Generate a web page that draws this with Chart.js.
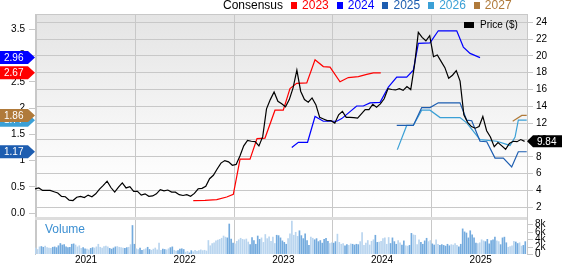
<!DOCTYPE html>
<html lang="en">
<head>
<meta charset="UTF-8">
<title>Consensus EPS and price</title>
<style>
    body {
        margin: 0;
        background: #fff;
        font-family: "Liberation Sans", Arial, sans-serif;
    }
    .wrap {
        position: relative;
        width: 562px;
        height: 264px;
        overflow: hidden;
    }
    canvas {
        position: absolute;
        left: 0;
        top: 0;
    }
    .legend {
        position: absolute;
        top: -2px;
        left: 223px;
        display: flex;
        align-items: center;
        font-size: 12px;
        line-height: 14px;
        white-space: nowrap;
    }
    .legend .item {
        display: flex;
        align-items: center;
        margin-left: 8px;
    }
    .legend .item:first-of-type {
        margin-left: 14px;
    }
    .sq {
        display: inline-block;
        width: 6px;
        height: 7px;
        margin-right: 5px;
    }
    .price-key {
        position: absolute;
        left: 464px;
        top: 19px;
        display: flex;
        align-items: center;
        font-size: 10px;
        line-height: 12px;
    }
    .price-key .sq {
        width: 10px;
        height: 6px;
        background: #000;
        margin-right: 6px;
    }
    .vol-label {
        position: absolute;
        left: 45px;
        top: 222px;
        font-size: 12px;
        line-height: 14px;
        color: #3b8fd2;
    }
</style>
</head>
<body>
<div class="wrap">
    <canvas id="chart" width="562" height="264"></canvas>
    <div class="legend">
        <span>Consensus</span>
        <span class="item" style="color:#ff0000"><i class="sq" style="background:#ff0000"></i>2023</span>
        <span class="item" style="color:#0000ff"><i class="sq" style="background:#0000ff"></i>2024</span>
        <span class="item" style="color:#1d5db0"><i class="sq" style="background:#1d5db0"></i>2025</span>
        <span class="item" style="color:#3ba0d6"><i class="sq" style="background:#3ba0d6"></i>2026</span>
        <span class="item" style="color:#b07a3a"><i class="sq" style="background:#b07a3a"></i>2027</span>
    </div>
    <div class="price-key"><i class="sq"></i>Price ($)</div>
    <div class="vol-label">Volume</div>
</div>

<script src="https://cdn.jsdelivr.net/npm/chart.js"></script>
<script>
    const FONT = '"Liberation Sans", Arial, sans-serif';

    // x axis in decimal years
    const years = [2021, 2022, 2023, 2024, 2025];
    const epsTicks = [0, 0.5, 1, 1.5, 2, 2.5, 3, 3.5];
    const priceTicks = [2, 4, 6, 8, 10, 12, 14, 16, 18, 20, 22, 24];
    const volTicks = [0, 2, 4, 6, 8];

    // closing price, one value every two weeks
    const priceStart = 2020.483;
    const priceStep = 1 / 26;
    const price = [
        4.19, 4.3, 4.0, 4.0, 4.0, 3.85, 3.7, 3.3, 3.25, 2.85,
        2.8, 3.2, 3.3, 3.15, 3.45, 3.25, 3.6, 4.15, 4.6, 5.1,
        4.35, 3.8, 4.4, 4.9, 4.3, 4.45, 3.9, 3.9, 3.45, 3.6,
        3.3, 3.35, 3.6, 4.1, 3.95, 4.05, 3.8, 3.8, 3.5, 3.4,
        3.5, 3.3, 3.65, 4.2, 4.25, 4.5, 5.4, 5.8, 6.55, 7.25,
        7.55, 7.4, 7.0, 7.1, 8.1, 9.3, 9.94, 9.85, 9.8, 9.3,
        10.4, 13.7, 14.8, 15.7, 14.6, 14.3, 13.95, 14.8, 16.2, 18.3,
        15.8, 14.8, 14.5, 15.0, 14.2, 12.7, 12.5, 12.3, 12.3, 12.0,
        13.0, 13.4, 12.7, 12.7, 12.65, 12.6, 13.1, 13.6, 13.6, 14.25,
        13.9, 14.3, 14.9, 16.1, 16.0, 15.95, 16.1, 15.9, 16.35, 16.0,
        18.9, 22.8, 22.2, 21.8, 22.4, 19.9, 20.1, 19.35, 18.6, 17.35,
        17.7, 18.25, 17.0, 13.0, 12.1, 11.6, 11.4, 11.6, 12.8, 11.1,
        10.35, 9.2, 9.7, 9.3, 8.9, 9.6, 9.85, 9.8, 10.05, 9.84
    ];

    // weekly volume, thousands
    const volStart = 2020.49;
    const volStep = 1 / 52;
    const volume = [
        1.6, 1.2, 1.9, 2.0, 1.8, 2.1, 1.7, 1.6, 1.5, 1.8, 1.9, 1.7, 2.2, 2.8, 2.4, 2.5, 1.9, 1.7, 1.8, 2.6, 2.7, 2.4, 1.9, 2.2, 1.5, 1.7,
        1.4, 1.3, 1.1, 1.5, 1.7, 1.6, 1.9, 2.6, 1.8, 1.6, 2.0, 2.1, 1.9, 1.5, 1.3, 1.6, 1.9, 2.0, 1.8, 1.7, 1.6, 1.5, 1.7, 1.8, 2.5, 7.6,
        2.6, 1.4, 1.2, 1.6, 1.0, 1.2, 1.4, 1.8, 1.2, 1.0, 1.3, 1.6, 1.1, 2.9, 1.0, 1.3, 1.2, 1.1, 1.4, 1.7, 1.9, 1.0, 0.8, 0.9, 1.3, 1.4,
        1.2, 0.5, 0.7, 0.3, 0.9, 0.6, 1.0, 0.7, 0.9, 1.1, 0.9, 1.0, 0.8, 3.6, 2.2, 2.8, 3.0, 3.5, 3.7, 3.9, 4.2, 4.8, 4.5, 4.3, 8.0, 4.0,
        2.9, 2.7, 3.4, 3.8, 4.2, 3.9, 3.8, 4.0, 3.2, 2.5, 4.4, 3.6, 2.6, 4.8, 3.9, 4.3, 3.1, 5.2, 4.1, 4.6, 3.4, 4.5, 2.8, 5.0, 4.9, 4.3,
        3.5, 3.1, 2.6, 4.1, 5.4, 8.8, 5.0, 5.8, 4.7, 6.2, 4.9, 4.1, 5.4, 3.6, 2.3, 4.5, 4.2, 3.8, 4.1, 3.3, 3.6, 2.9, 3.9, 4.2, 3.4, 2.8,
        3.0, 2.9, 3.3, 5.3, 3.1, 2.6, 2.8, 2.2, 2.5, 2.3, 2.7, 2.6, 2.4, 2.6, 2.5, 3.3, 5.7, 2.3, 2.9, 3.6, 2.4, 3.4, 3.8, 5.0, 3.1, 3.2,
        3.4, 4.1, 4.3, 2.6, 4.4, 2.8, 4.3, 3.3, 2.6, 3.6, 3.0, 2.4, 3.5, 2.2, 2.1, 2.3, 5.5, 5.1, 5.0, 2.5, 3.8, 3.1, 2.6, 3.5, 4.2, 3.3,
        3.6, 2.7, 2.4, 3.8, 2.6, 2.3, 2.5, 2.3, 2.1, 2.6, 2.2, 2.5, 2.4, 2.8, 2.3, 1.9, 2.6, 6.7, 5.9, 5.6, 4.3, 6.2, 5.1, 4.3, 2.9, 2.8,
        3.0, 3.8, 3.5, 3.3, 3.9, 2.7, 3.6, 3.8, 4.5, 3.5, 3.3, 2.5, 4.3, 4.5, 3.0, 1.8, 2.0, 2.2, 3.4, 3.2, 2.8, 3.0, 2.1, 2.3, 3.3
    ];

    // consensus EPS estimates by fiscal year: [decimal year, eps]
    const est2023 = [
        [2022.087, 0.24], [2022.206, 0.245], [2022.325, 0.26], [2022.426, 0.31], [2022.493, 0.36],
        [2022.561, 1.03], [2022.662, 1.03], [2022.733, 1.42], [2022.814, 1.43], [2022.915, 1.96],
        [2022.999, 1.96], [2023.067, 2.37], [2023.135, 2.47], [2023.237, 2.48], [2023.321, 2.92],
        [2023.405, 2.79], [2023.473, 2.78], [2023.574, 2.50], [2023.658, 2.58], [2023.760, 2.60],
        [2023.845, 2.64], [2023.912, 2.67], [2023.987, 2.67]
    ];
    const est2024 = [
        [2023.085, 1.25], [2023.152, 1.35], [2023.245, 1.35], [2023.321, 1.84], [2023.405, 1.75],
        [2023.541, 1.75], [2023.591, 1.80], [2023.743, 2.04], [2023.810, 2.04], [2023.878, 2.10],
        [2023.980, 2.11], [2024.064, 2.40], [2024.149, 2.59], [2024.250, 2.59], [2024.317, 2.72],
        [2024.368, 3.23], [2024.486, 3.24], [2024.570, 3.47], [2024.757, 3.47], [2024.824, 3.16],
        [2024.892, 3.04], [2024.993, 2.96]
    ];
    const est2025 = [
        [2024.149, 1.67], [2024.317, 1.67], [2024.402, 2.01], [2024.486, 2.01], [2024.570, 2.10],
        [2024.790, 2.10], [2024.858, 1.77], [2024.909, 1.76], [2024.993, 1.37], [2025.061, 1.36],
        [2025.145, 1.05], [2025.229, 1.05], [2025.314, 0.88], [2025.381, 1.17], [2025.466, 1.17]
    ];
    const est2026 = [
        [2024.155, 1.21], [2024.250, 1.67], [2024.317, 1.67], [2024.402, 1.96], [2024.486, 1.96],
        [2024.588, 1.82], [2024.790, 1.82], [2024.858, 1.72], [2024.993, 1.40], [2025.162, 1.37],
        [2025.297, 1.29], [2025.348, 1.45], [2025.381, 1.77], [2025.466, 1.77]
    ];
    const est2027 = [
        [2025.324, 1.75], [2025.416, 1.86], [2025.466, 1.86]
    ];

    const estSeries = [
        { label: '2023', data: est2023, color: '#ff0000' },
        { label: '2024', data: est2024, color: '#0000ff' },
        { label: '2025', data: est2025, color: '#1d5db0' },
        { label: '2026', data: est2026, color: '#3ba0d6' },
        { label: '2027', data: est2027, color: '#b07a3a' }
    ];

    const pricePoints = price.map((p, i) => ({ x: priceStart + i * priceStep, y: p }));
    const volPoints = volume.map((v, i) => ({ x: volStart + i * volStep, y: v }));
    const volColors = volPoints.map(pt => {
        const j = Math.round((pt.x - priceStart) / priceStep);
        const up = j <= 0 || price[Math.min(j, price.length - 1)] >= price[Math.min(j, price.length - 1) - 1];
        return up ? '#b9d5ef' : '#74abde';
    });

    const GRID = '#c8c8c8';

    // background panes, top border and the gray band between price and volume
    const panes = {
        id: 'panes',
        beforeDraw(chart) {
            const { ctx, chartArea: a } = chart;
            const split = a.top + 203;
            const g = ctx.createLinearGradient(0, a.top, 0, split);
            g.addColorStop(0, '#e4e4e4');
            g.addColorStop(0.75, '#fcfcfc');
            g.addColorStop(1, '#ffffff');
            ctx.save();
            ctx.fillStyle = g;
            ctx.fillRect(a.left, a.top, a.right - a.left, split - a.top);
            ctx.restore();
        },
        beforeDatasetsDraw(chart) {
            const { ctx, chartArea: a } = chart;
            const split = a.top + 203;
            ctx.save();
            ctx.fillStyle = '#dddddd';
            ctx.fillRect(a.left, split, a.right - a.left, 3);
            ctx.strokeStyle = GRID;
            ctx.lineWidth = 1;
            ctx.beginPath();
            ctx.moveTo(a.left, a.top + 0.5);
            ctx.lineTo(a.right, a.top + 0.5);
            ctx.stroke();
            ctx.restore();
        },
        afterDraw(chart) {
            const { ctx, chartArea: a, scales } = chart;
            ctx.save();
            // volume axis labels on the right
            ctx.font = '10px ' + FONT;
            ctx.textBaseline = 'middle';
            ctx.textAlign = 'left';
            volTicks.forEach(v => {
                const y = Math.round(scales.yVol.getPixelForValue(v)) + 0.5;
                ctx.strokeStyle = GRID;
                ctx.beginPath();
                ctx.moveTo(a.right, y);
                ctx.lineTo(a.right + 6, y);
                ctx.stroke();
                ctx.fillStyle = '#000';
                ctx.fillText(v === 0 ? '0' : v + 'k', a.right + 8, y);
            });

            // last estimate tags on the left
            estSeries.forEach(s => {
                const last = s.data[s.data.length - 1][1];
                const y = scales.yEps.getPixelForValue(last);
                ctx.fillStyle = s.color;
                ctx.beginPath();
                ctx.moveTo(0, y - 6.5);
                ctx.lineTo(28, y - 6.5);
                ctx.lineTo(35, y);
                ctx.lineTo(28, y + 6.5);
                ctx.lineTo(0, y + 6.5);
                ctx.closePath();
                ctx.fill();
                ctx.fillStyle = '#fff';
                ctx.textAlign = 'left';
                ctx.fillText(last.toFixed(2), 4, y + 0.5);
            });

            // last price tag on the right
            const lp = price[price.length - 1];
            const py = scales.yPrice.getPixelForValue(lp);
            ctx.fillStyle = '#000';
            ctx.beginPath();
            ctx.moveTo(a.right, py);
            ctx.lineTo(a.right + 6, py - 6);
            ctx.lineTo(562, py - 6);
            ctx.lineTo(562, py + 6);
            ctx.lineTo(a.right + 6, py + 6);
            ctx.closePath();
            ctx.fill();
            ctx.fillStyle = '#fff';
            ctx.fillText(lp.toFixed(2), a.right + 10, py + 0.5);
            ctx.restore();
        }
    };

    const datasets = [];
    datasets.push({
        type: 'line',
        label: 'Price ($)',
        data: pricePoints,
        yAxisID: 'yPrice',
        borderColor: '#000',
        borderWidth: 1.2,
        pointRadius: 0,
        tension: 0,
        order: 0
    });
    estSeries.forEach(s => {
        datasets.push({
            type: 'line',
            label: s.label,
            data: s.data.map(d => ({ x: d[0], y: d[1] })),
            yAxisID: 'yEps',
            borderColor: s.color,
            borderWidth: 1.2,
            pointRadius: 0,
            tension: 0,
            order: 1
        });
    });
    datasets.push({
        type: 'bar',
        label: 'Volume',
        data: volPoints,
        yAxisID: 'yVol',
        backgroundColor: volColors,
        barThickness: 1,
        order: 2
    });

    new Chart(document.getElementById('chart'), {
        type: 'line',
        data: { datasets: datasets },
        plugins: [panes],
        options: {
            responsive: false,
            animation: false,
            events: [],
            layout: { padding: { top: 14, left: 0, right: 0, bottom: 0 } },
            plugins: {
                legend: { display: false },
                tooltip: { enabled: false }
            },
            scales: {
                x: {
                    type: 'linear',
                    min: 2020.483,
                    max: 2025.469,
                    offset: false,
                    afterBuildTicks: s => { s.ticks = years.map(v => ({ value: v })); },
                    afterFit: s => { s.height = 10; },
                    ticks: {
                        callback: v => String(v),
                        font: { size: 10, family: FONT },
                        color: '#000',
                        padding: 0,
                        maxRotation: 0,
                        autoSkip: false
                    },
                    grid: { color: GRID, drawTicks: false },
                    border: { display: false }
                },
                yEps: {
                    position: 'left',
                    min: -0.774,
                    max: 3.789,
                    afterBuildTicks: s => { s.ticks = epsTicks.map(v => ({ value: v })); },
                    afterFit: s => { s.width = 35; },
                    ticks: {
                        callback: v => (v === 0 ? '0.0' : String(v)),
                        font: { size: 10, family: FONT },
                        color: '#000',
                        padding: 4
                    },
                    grid: { drawOnChartArea: false, tickLength: 6, color: GRID },
                    border: { color: GRID }
                },
                yPrice: {
                    position: 'right',
                    min: -3.555,
                    max: 24.98,
                    afterBuildTicks: s => { s.ticks = priceTicks.map(v => ({ value: v })); },
                    afterFit: s => { s.width = 35; },
                    ticks: {
                        font: { size: 10, family: FONT },
                        color: '#000',
                        padding: 3
                    },
                    grid: { color: GRID, tickLength: 6 },
                    border: { color: GRID }
                },
                yVol: {
                    display: false,
                    min: 0,
                    max: 64
                }
            }
        }
    });
</script>
</body>
</html>
